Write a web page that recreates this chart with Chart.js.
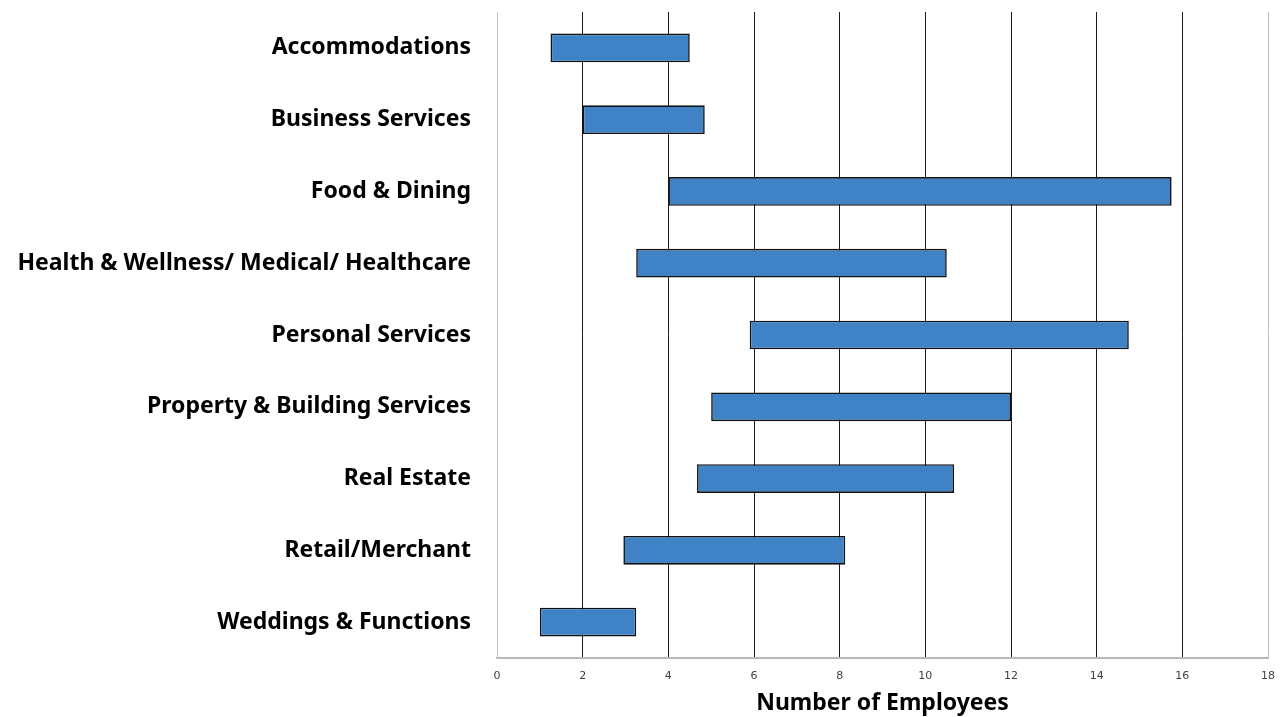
<!DOCTYPE html>
<html lang="en">
<head>
    <meta charset="utf-8"/>
    <title>Number of Employees</title>
    <script src="https://cdn.jsdelivr.net/npm/chart.js"></script>
    <style>
        html, body { margin: 0; padding: 0; background: #fff; }
        #wrap { width: 1280px; height: 717px; }
    </style>
</head>
<body>
<div id="wrap"><canvas id="chart"></canvas></div>
<script>
    // categories and employee ranges (low, high)
    const categories = [
        'Accommodations',
        'Business Services',
        'Food & Dining',
        'Health & Wellness/ Medical/ Healthcare',
        'Personal Services',
        'Property & Building Services',
        'Real Estate',
        'Retail/Merchant',
        'Weddings & Functions'
    ];
    const lowValues  = [1.25, 2.0, 4.0, 3.25, 5.9, 5.0, 4.67, 2.95, 1.0];
    const highValues = [4.5, 4.85, 15.75, 10.5, 14.75, 12.0, 10.67, 8.13, 3.25];
    const xTicks = [0, 2, 4, 6, 8, 10, 12, 14, 16, 18];

    const ranges = lowValues.map((lo, i) => [lo, highValues[i]]);

    new Chart(document.getElementById('chart'), {
        type: 'bar',
        data: {
            labels: categories,
            datasets: [{
                data: ranges,
                backgroundColor: '#3f83c6',
                borderColor: '#111111',
                borderWidth: 1.6,
                borderSkipped: false,
                barPercentage: 0.4,
                categoryPercentage: 1.0
            }]
        },
        options: {
            indexAxis: 'y',
            responsive: true,
            maintainAspectRatio: false,
            animation: false,
            layout: { padding: { top: 12, right: 12, bottom: 0, left: 0 } },
            plugins: {
                legend: { display: false },
                tooltip: { enabled: false }
            },
            scales: {
                x: {
                    min: 0,
                    max: 18,
                    afterBuildTicks: (axis) => { axis.ticks = xTicks.map(v => ({ value: v })); },
                    afterFit: (axis) => {
                        axis.height = 59;
                        axis.paddingLeft = 0;
                        axis.paddingRight = 0;
                    },
                    grid: {
                        drawTicks: false,
                        color: (ctx) => (ctx.tick && (ctx.tick.value === 0 || ctx.tick.value === 18)) ? '#c0c0c0' : '#1a1a1a',
                        lineWidth: 1
                    },
                    border: { color: '#b8b8b8', width: 2 },
                    ticks: {
                        padding: 12,
                        autoSkip: false,
                        maxRotation: 0,
                        color: '#404040',
                        font: { family: 'DejaVu Sans', size: 11 }
                    },
                    title: {
                        display: true,
                        text: 'Number of Employees',
                        color: '#000',
                        padding: { top: 2, bottom: 0 },
                        font: { family: 'Noto Sans', size: 23, weight: 'bold' }
                    }
                },
                y: {
                    afterFit: (axis) => {
                        axis.width = 497;
                        axis.paddingTop = 0;
                        axis.paddingBottom = 0;
                    },
                    grid: { display: false, drawTicks: false },
                    border: { color: '#c0c0c0', width: 1 },
                    ticks: {
                        padding: 26,
                        color: '#000',
                        font: { family: 'Noto Sans', size: 23, weight: 'bold' }
                    }
                }
            }
        }
    });
</script>
</body>
</html>
